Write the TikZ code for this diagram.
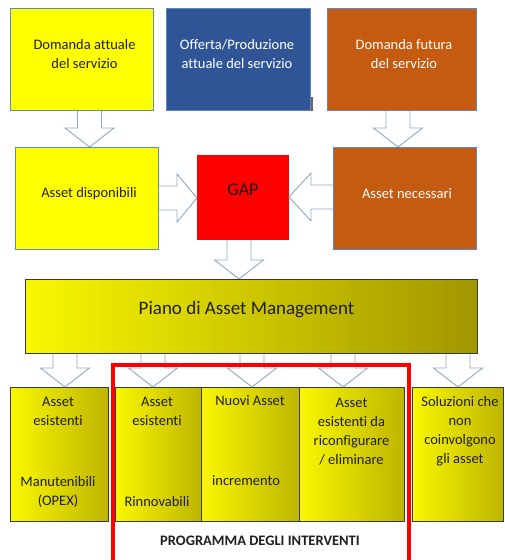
\documentclass[tikz,border=0pt]{standalone}
\usepackage{fontspec}
\setmainfont{Carlito}[Ligatures=NoCommon]
\usetikzlibrary{calc}
\definecolor{ayellow}{HTML}{FFFF00}
\definecolor{ablue}{HTML}{2F5597}
\definecolor{aorange}{HTML}{C55A11}
\definecolor{ared}{HTML}{FF0000}
\definecolor{arrowline}{HTML}{8EA8C8}
\definecolor{boxline}{HTML}{5B88C6}
\definecolor{darkline}{HTML}{3A3A3A}
\definecolor{ylight}{RGB}{250,247,0}
\definecolor{ydark}{RGB}{190,181,0}
\definecolor{pdark}{RGB}{160,150,0}
\tikzset{
  box/.style={inner sep=0pt, outer sep=0pt, anchor=north west, draw=boxline, line width=0.8pt},
  gradbox/.style={inner sep=0pt, outer sep=0pt, anchor=north west, draw=darkline, line width=0.8pt,
    left color=ylight, right color=ydark},
  txt/.style={inner sep=0pt, align=center, font=\fontsize{14.5}{19}\selectfont, text=black!88},
  wtxt/.style={txt, text=white},
  blockarrow/.style={draw=arrowline, fill=white, line width=0.9pt, line join=miter},
}
\newcommand{\vblock}[3]{%
  \coordinate (va) at ($(#1.south)+(#3,0)$);
  \coordinate (vb) at (va |- #2.north);
  \draw[blockarrow] ($(va)+(-12,0)$) -- ($(vb)+(-12,-19)$) -- ($(vb)+(-24.5,-19)$) -- (vb)
     -- ($(vb)+(24.5,-19)$) -- ($(vb)+(12,-19)$) -- ($(va)+(12,0)$);
}
\newcommand{\hblock}[4]{% #1 src anchor, #2 dst anchor, #3 dy, #4 signed head length
  \coordinate (ha) at ($(#1)+(0,#3)$);
  \coordinate (hb) at (ha -| #2);
  \draw[blockarrow] ($(ha)+(0,-12)$) -- ($(hb)+(#4,-12)$) -- ($(hb)+(#4,-24)$) -- (hb)
     -- ($(hb)+(#4,24)$) -- ($(hb)+(#4,12)$) -- ($(ha)+(0,12)$);
}
\begin{document}
\begin{tikzpicture}[x=1pt,y=-1pt]
\useasboundingbox (0,0) rectangle (504,560);
\clip (0,0) rectangle (504,560);
\fill[white] (0,0) rectangle (504,560);

% boxes (positions)
\path
  (10,8)   node[box, fill=ayellow, minimum width=143pt, minimum height=102pt] (b1) {}
  (166,8)  node[box, fill=ablue, minimum width=144pt, minimum height=102pt] (b2) {}
  (327,8)  node[box, fill=aorange, minimum width=149pt, minimum height=102pt] (b3) {}
  (15,147) node[box, fill=ayellow, minimum width=143pt, minimum height=102pt] (ad) {}
  (197,155) node[box, draw=none, fill=ared, minimum width=92pt, minimum height=85pt] (gap) {}
  (333,147) node[box, fill=aorange, minimum width=143pt, minimum height=102pt] (an) {}
  (25,279) node[gradbox, right color=pdark, minimum width=452pt, minimum height=74pt] (piano) {}
  (10,387)  node[gradbox, minimum width=98pt, minimum height=134pt] (bA) {}
  (115,387) node[gradbox, minimum width=86pt, minimum height=134pt] (bB) {}
  (201,387) node[gradbox, minimum width=98pt, minimum height=134pt] (bC) {}
  (299,387) node[gradbox, minimum width=105pt, minimum height=134pt] (bD) {}
  (412,387) node[gradbox, minimum width=91pt, minimum height=134pt] (bE) {};

% block arrows
\vblock{b1}{ad}{8}
\vblock{b3}{an}{-3.5}
\vblock{gap}{piano}{-4}
\vblock{piano}{bA}{-186}
\vblock{piano}{bB}{-98}
\vblock{piano}{bC}{1}
\vblock{piano}{bD}{92}
\vblock{piano}{bE}{207}
\hblock{ad.east}{gap.west}{0}{-20}
\hblock{an.west}{gap.east}{-1}{22}

% redraw box borders on top of arrow shafts
\foreach \n/\c in {b1/boxline,b3/boxline,ad/boxline,an/boxline}{
  \draw[\c, line width=0.8pt] (\n.south west) rectangle (\n.north east);
}
\draw[darkline, line width=0.8pt] (piano.south west) rectangle (piano.north east);

% texts
\node[txt]  (b1t) at ($(b1.center)+(3,-5)$) {Domanda attuale\\del servizio};
\node[wtxt] (b2t) at ($(b2.center)+(-1,-5)$) {Offerta/Produzione\\attuale del servizio};
\node[wtxt] (b3t) at ($(b3.center)+(2.5,-5)$) {Domanda futura\\del servizio};
\node[txt]  (adt) at ($(ad.center)+(2.5,-4)$) {Asset disponibili};
\node[txt, font=\fontsize{18}{22}\selectfont] (gapt) at ($(gap.center)+(0,-7.5)$) {GAP};
\node[wtxt] (ant) at ($(an.center)+(2.5,-4)$) {Asset necessari};
\node[txt, font=\fontsize{19}{23}\selectfont] (pianot) at ($(piano.center)+(-4.5,-6)$) {Piano di Asset Management};

\node[txt] (bAt1) at ($(bA.center)+(-1,-42.5)$) {Asset\\esistenti};
\node[txt] (bAt2) at ($(bA.center)+(-1,38)$) {Manutenibili\\(OPEX)};
\node[txt] (bBt1) at ($(bB.center)+(-1,-42.5)$) {Asset\\esistenti};
\node[txt] (bBt2) at ($(bB.center)+(-1,48)$) {Rinnovabili};
\node[txt] (bCt1) at ($(bC.center)+(0,-53)$) {Nuovi Asset};
\node[txt] (bCt2) at ($(bC.center)+(-4,27)$) {incremento};
\node[txt] (bDt) at ($(bD.center)+(0,-22.5)$) {Asset\\esistenti da\\riconfigurare\\/ eliminare};
\node[txt] (bEt) at ($(bE.center)+(2.5,-22.5)$) {Soluzioni che\\non\\coinvolgono\\gli asset};

% programma frame
\draw[ared, line width=4pt] (113,575) -- (113,365) -- (409,365) -- (409,575);
\node[txt, font=\bfseries\fontsize{14.5}{17}\selectfont] (prog) at (260,541) {PROGRAMMA DEGLI INTERVENTI};

% small cursor mark
\draw[black!60, line width=1.4pt] (312,97) -- (312,111);
\end{tikzpicture}
\end{document}
